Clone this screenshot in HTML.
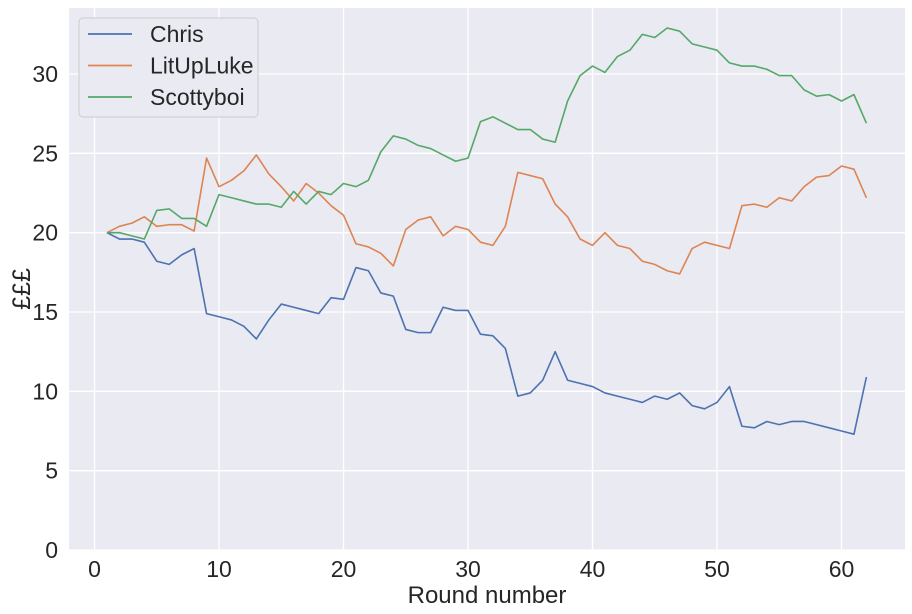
<!DOCTYPE html>
<html><head><meta charset="utf-8"><style>
body{margin:0;background:#fff;}
svg{display:block;font-family:"Liberation Sans","DejaVu Sans",sans-serif;}
</style></head><body>
<svg id="chart" width="912" height="614"></svg>
<script>
const rounds = Array.from({length:62},(_,i)=>i+1);
const chris = [20,19.6,19.6,19.4,18.2,18.0,18.6,19.0,14.9,14.7,14.5,14.1,13.3,14.5,15.5,15.3,15.1,14.9,15.9,15.8,17.8,17.6,16.2,16.0,13.9,13.7,13.7,15.3,15.1,15.1,13.6,13.5,12.7,9.7,9.9,10.7,12.5,10.7,10.5,10.3,9.9,9.7,9.5,9.3,9.7,9.5,9.9,9.1,8.9,9.3,10.3,7.8,7.7,8.1,7.9,8.1,8.1,7.9,7.7,7.5,7.3,10.9];
const luke = [20,20.4,20.6,21.0,20.4,20.5,20.5,20.1,24.7,22.9,23.3,23.9,24.9,23.7,22.9,22.0,23.1,22.5,21.7,21.1,19.3,19.1,18.7,17.9,20.2,20.8,21.0,19.8,20.4,20.2,19.4,19.2,20.4,23.8,23.6,23.4,21.8,21.0,19.6,19.2,20.0,19.2,19.0,18.2,18.0,17.6,17.4,19.0,19.4,19.2,19.0,21.7,21.8,21.6,22.2,22.0,22.9,23.5,23.6,24.2,24.0,22.2];
const scotty = [20,20.0,19.8,19.6,21.4,21.5,20.9,20.9,20.4,22.4,22.2,22.0,21.8,21.8,21.6,22.6,21.8,22.6,22.4,23.1,22.9,23.3,25.1,26.1,25.9,25.5,25.3,24.9,24.5,24.7,27.0,27.3,26.9,26.5,26.5,25.9,25.7,28.3,29.9,30.5,30.1,31.1,31.5,32.5,32.3,32.9,32.7,31.9,31.7,31.5,30.7,30.5,30.5,30.3,29.9,29.9,29.0,28.6,28.7,28.3,28.7,26.9];
const xTicks = [0,10,20,30,40,50,60];
const yTicks = [0,5,10,15,20,25,30];
const seriesNames = ["Chris","LitUpLuke","Scottyboi"];
const colors = ["#4c72b0","#dd8452","#55a868"];

const L=69,R=905,T=8,B=550;
const xMin=-2.05,xMax=65.1,yMin=0,yMax=34.16;
const xs=v=>L+(v-xMin)/(xMax-xMin)*(R-L);
const ys=v=>B-(v-yMin)/(yMax-yMin)*(B-T);
const NS="http://www.w3.org/2000/svg";
const svg=document.getElementById('chart');
function mk(tag,attrs,parent){const e=document.createElementNS(NS,tag);for(const k in attrs)e.setAttribute(k,attrs[k]);(parent||svg).appendChild(e);return e;}

const bg=mk('rect',{x:L,y:T,width:R-L,height:B-T,fill:'#eaeaf2'});



xTicks.forEach(t=>{
  const g=mk('line',{x1:xs(t),x2:xs(t),y1:T,y2:B,stroke:'#fff','stroke-width':1.3});
  
  
  const tx=mk('text',{x:xs(t),y:B+27,'text-anchor':'middle','font-size':23,fill:'#262626'});
  tx.textContent=t;
  
  
});
yTicks.forEach(t=>{
  const g=mk('line',{x1:L,x2:R,y1:ys(t),y2:ys(t),stroke:'#fff','stroke-width':1.3});
  
  
  const tx=mk('text',{x:L-11,y:ys(t)+8,'text-anchor':'end','font-size':23,fill:'#262626'});
  tx.textContent=t;
  
  
});

[chris,luke,scotty].forEach((data,i)=>{
  const p=mk('polyline',{points:data.map((v,j)=>xs(rounds[j])+','+ys(v)).join(' '),fill:'none',stroke:colors[i],'stroke-width':1.6,'stroke-linejoin':'round'});
  
  
});

const xl=mk('text',{x:(L+R)/2,y:603,'text-anchor':'middle','font-size':24,fill:'#262626'});
xl.textContent='Round number';


const yc=(T+B)/2+10;
const yl=mk('text',{x:30,y:yc,'text-anchor':'middle','font-size':25,fill:'#262626',transform:'rotate(-90 30 '+yc+')'});
yl.textContent='£££';



const lg=mk('g',{});


mk('rect',{x:79,y:18,width:179,height:99,rx:4,fill:'#eaeaf2',stroke:'#cccccc','stroke-width':1},lg);
seriesNames.forEach((n,i)=>{
  const y=34+i*31.5;
  const ln=mk('line',{x1:88,x2:132,y1:y,y2:y,stroke:colors[i],'stroke-width':1.8},lg);
  
  
  const t=mk('text',{x:150,y:y+8,'font-size':23,fill:'#262626'},lg);
  t.textContent=n;
  
  
});
</script>
</body></html>
